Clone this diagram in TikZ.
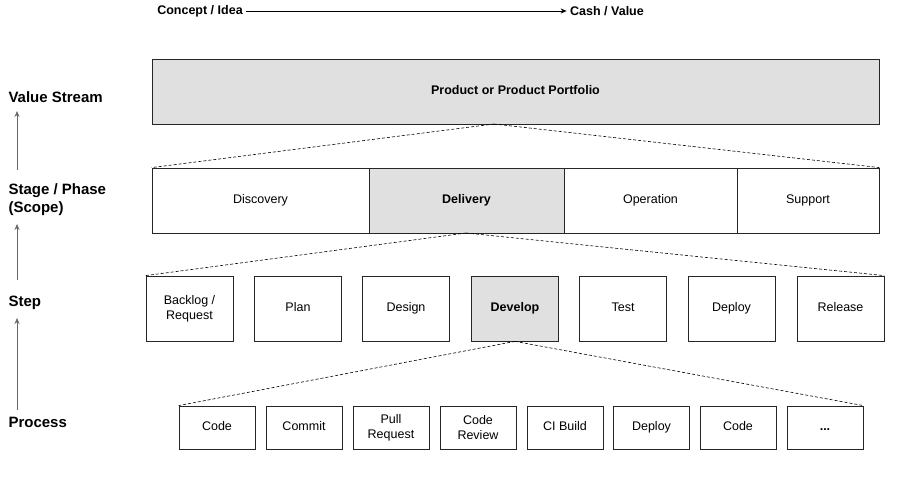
\documentclass[tikz,border=0pt]{standalone}
\usepackage{fontspec}
\setmainfont{Liberation Sans}
\usetikzlibrary{arrows.meta}
\begin{document}
\begin{tikzpicture}[x=1pt,y=-1pt,
  bx/.style={draw=black!85,line width=0.8pt,align=center,font=\fontsize{12.5}{15}\selectfont,inner sep=0pt},
  one/.style={text height=9pt,text depth=3pt},
  gr/.style={fill=black!12,font=\fontsize{12.5}{15}\selectfont\bfseries},
  dl/.style={line width=0.6pt,dash pattern=on 3pt off 2pt},
  lab/.style={anchor=west,font=\fontsize{15}{18}\selectfont\bfseries,align=left},
  up/.style={-{Stealth[length=6pt,width=5pt]},draw=black!60,line width=0.8pt}]
\useasboundingbox (0,0) rectangle (900,495);
\node[font=\fontsize{12.5}{15}\selectfont\bfseries] (ci) at (200,11) {Concept / Idea};
\node[font=\fontsize{12.5}{15}\selectfont\bfseries] (cv) at (607,11) {Cash / Value};
\draw[-{Stealth[length=6pt,width=5pt]},line width=0.7pt] (ci.east) -- (cv.west);
% product
\node[bx,gr,one,minimum width=727pt,minimum height=65pt] (prod) at (515.5,91.5) {Product or Product Portfolio};
% stages
\node[bx,one,minimum width=217pt,minimum height=65pt] (disc) at (260.5,200.5) {Discovery};
\node[bx,gr,one,minimum width=195pt,minimum height=65pt] (deli) at (466.5,200.5) {Delivery};
\node[bx,one,minimum width=173pt,minimum height=65pt] (oper) at (650.5,200.5) {Operation};
\node[bx,one,minimum width=142pt,minimum height=65pt] (supp) at (808,200.5) {Support};
% steps
\node[bx,minimum width=87pt,minimum height=65pt] (bl) at (189.5,308.5) {Backlog /\\Request};
\node[bx,one,minimum width=87pt,minimum height=65pt] (pl) at (298,308.5) {Plan};
\node[bx,one,minimum width=87pt,minimum height=65pt] (de) at (406,308.5) {Design};
\node[bx,gr,one,minimum width=87pt,minimum height=65pt] (dv) at (515,308.5) {Develop};
\node[bx,one,minimum width=87pt,minimum height=65pt] (te) at (623,308.5) {Test};
\node[bx,one,minimum width=87pt,minimum height=65pt] (dp) at (731.5,308.5) {Deploy};
\node[bx,one,minimum width=87pt,minimum height=65pt] (re) at (840.5,308.5) {Release};
% process
\tikzset{pb/.style={bx,minimum width=76pt,minimum height=43pt}}
\node[pb,one] (p1) at (217,427.5) {Code};
\node[pb,one] (p2) at (304,427.5) {Commit};
\node[pb] (p3) at (391,427.5) {Pull\\Request};
\node[pb] (p4) at (478,427.5) {Code\\Review};
\node[pb,one] (p5) at (565,427.5) {CI Build};
\node[pb,one] (p6) at (651.5,427.5) {Deploy};
\node[pb,one] (p7) at (738,427.5) {Code};
\node[pb,one,font=\fontsize{12.5}{15}\selectfont\bfseries] (p8) at (825,427.5) {...};
% dashed
\coordinate (pbot) at (494,124);
\draw[dl] (pbot) -- (disc.north west);
\draw[dl] (pbot) -- (supp.north east);
\coordinate (dbot) at (466,233);
\draw[dl] (dbot) -- (bl.north west);
\draw[dl] (dbot) -- (re.north east);
\draw[dl] (dv.south) -- (p1.north west);
\draw[dl] (dv.south) -- (p8.north east);
% left labels
\node[lab] (l1) at (5,97) {Value Stream};
\node[lab] (l2) at (5,200) {Stage / Phase\\(Scope)};
\node[lab] (l3) at (5,303) {Step};
\node[lab] (l4) at (5,422) {Process};
\draw[up] (17,170) -- (17,111);
\draw[up] (17,280) -- (17,224);
\draw[up] (17,410) -- (17,318);
\end{tikzpicture}
\end{document}
